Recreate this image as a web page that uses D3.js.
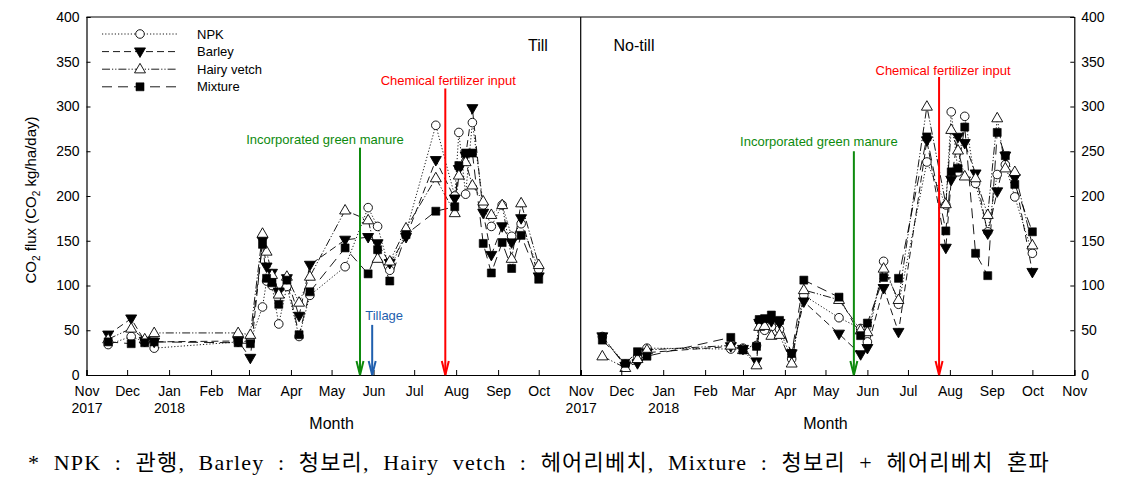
<!DOCTYPE html>
<html><head><meta charset="utf-8">
<script src="https://cdn.jsdelivr.net/npm/d3@7"></script>
<style>body{margin:0;background:#fff}svg{display:block}</style>
</head><body>
<script>
// ---------------- DATA ----------------
const seriesNames = ["NPK", "Barley", "Hairy vetch", "Mixture"];
const monthLabels = ["Nov","Dec","Jan","Feb","Mar","Apr","May","Jun","Jul","Aug","Sep","Oct","Nov"];
const yearLabels = {0: "2017", 2: "2018"};
const yTicks = [0,50,100,150,200,250,300,350,400];

// Till panel
const tillDates = ["2017-11-17","2017-12-04","2017-12-14","2017-12-21","2018-02-21","2018-03-02","2018-03-11","2018-03-14","2018-03-18","2018-03-23","2018-03-29","2018-04-07","2018-04-15","2018-05-11","2018-05-28","2018-06-04","2018-06-13","2018-06-25","2018-07-17","2018-07-31","2018-08-03","2018-08-08","2018-08-13","2018-08-21","2018-08-27","2018-09-04","2018-09-11","2018-09-18","2018-10-01"];
const tillNPK     = [34,43,37,30,37,38,76,105,100,57,99,43,89,121,187,166,117,160,279,200,271,202,282,190,166,190,155,169,118];
const tillBarley  = [45,63,38,37,38,19,150,121,114,93,108,66,123,151,154,147,125,154,240,197,230,245,298,181,134,166,148,175,110];
const tillVetch   = [40,52,40,47,47,45,158,138,112,90,110,81,110,184,173,130,127,164,220,181,223,238,212,194,179,190,130,192,123];
const tillMixture = [37,35,36,37,36,35,146,108,103,79,106,45,93,142,113,140,105,157,183,188,234,248,248,147,114,148,119,156,107];

// No-till panel
const noTillDates = ["2017-11-17","2017-12-04","2017-12-13","2017-12-20","2018-02-20","2018-03-01","2018-03-11","2018-03-13","2018-03-17","2018-03-22","2018-03-28","2018-04-06","2018-04-15","2018-05-11","2018-05-27","2018-06-01","2018-06-13","2018-06-24","2018-07-15","2018-07-29","2018-08-02","2018-08-07","2018-08-12","2018-08-20","2018-08-29","2018-09-05","2018-09-11","2018-09-18","2018-10-01"];
const noTillNPK     = [43,12,20,30,29,30,33,61,50,54,51,18,89,64,52,37,127,79,238,190,294,227,289,214,160,224,235,199,136];
const noTillBarley  = [43,10,13,25,32,29,15,58,60,60,58,24,82,46,23,30,97,48,262,142,218,266,259,225,158,205,245,220,115];
const noTillVetch   = [21,8,18,28,33,28,11,54,55,44,45,13,95,84,50,48,119,84,300,191,274,251,222,220,179,287,231,227,145];
const noTillMixture = [39,13,26,21,42,28,32,62,63,67,61,24,106,87,44,58,109,108,266,161,227,231,277,136,111,271,245,213,160];

// Events
const greenManureDate = "2018-05-22";
const tillageDate = "2018-05-31";
const fertilizerDate = "2018-07-24";

const footnote = "* NPK : 관행, Barley : 청보리, Hairy vetch : 헤어리베치, Mixture : 청보리 + 헤어리베치 혼파";

// ---------------- CHART ----------------
const W = 1128, H = 496;
const FONT = "'Liberation Sans', Arial, sans-serif";
const parse = d3.timeParse("%Y-%m-%d");
const svg = d3.select("body").append("svg").attr("width", W).attr("height", H)
  .style("font-family", FONT);

const y = d3.scaleLinear().domain([0, 400]).range([375, 17]);
const domain = [new Date(2017,10,1), new Date(2018,10,1)];
const xL = d3.scaleTime().domain(domain).range([86.5, 580.7]);
const xR = d3.scaleTime().domain(domain).range([580.7, 1074.3]);
const tickDates = d3.timeMonth.range(new Date(2017,10,1), new Date(2018,10,2));

const styles = [
  {dash: "1.2,2", sym: "circle", fill: "#fff"},
  {dash: "7,4", sym: "tdown", fill: "#000"},
  {dash: "8,2,1.2,2,1.2,2", sym: "tup", fill: "#fff"},
  {dash: "10,6", sym: "square", fill: "#000"}
];

function drawMarker(g, sym, fill, cx, cy) {
  if (sym === "circle") {
    g.append("circle").attr("cx", cx).attr("cy", cy).attr("r", 4.3)
      .attr("fill", fill).attr("stroke", "#000").attr("stroke-width", 0.9);
  } else if (sym === "square") {
    g.append("path").attr("d", d3.symbol(d3.symbolSquare, 64)())
      .attr("transform", `translate(${cx},${cy})`).attr("fill", fill).attr("stroke", "#000").attr("stroke-width", 0.6);
  } else {
    const rot = sym === "tdown" ? 180 : 0;
    g.append("path").attr("d", d3.symbol(d3.symbolTriangle, 52)())
      .attr("transform", `translate(${cx},${cy + (sym==="tdown"?-0.5:0.5)}) rotate(${rot})`)
      .attr("fill", fill).attr("stroke", "#000").attr("stroke-width", 0.9);
  }
}

function panel(x, dates, series, showYLeft, showYRight, labelLastNov) {
  const g = svg.append("g");
  const dd = dates.map(parse);
  series.forEach((vals, i) => {
    const line = d3.line().x((d, j) => x(dd[j])).y(d => y(d));
    g.append("path").datum(vals).attr("d", line).attr("fill", "none")
      .attr("stroke", "#000").attr("stroke-width", 0.9).attr("stroke-dasharray", styles[i].dash);
  });
  series.forEach((vals, i) => {
    vals.forEach((v, j) => drawMarker(g, styles[i].sym, styles[i].fill, x(dd[j]), y(v)));
  });
  const ax = svg.append("g").attr("transform", "translate(0,375)")
    .call(d3.axisBottom(x).tickValues(tickDates).tickSize(-5).tickPadding(11)
      .tickFormat((d, i) => (i === 12 && !labelLastNov) ? "" : monthLabels[i]));
  ax.select(".domain").attr("stroke", "#000").attr("stroke-width", 1.2);
  ax.selectAll(".tick line").attr("stroke", "#000");
  ax.selectAll(".tick text").attr("font-size", 14).attr("fill", "#000").attr("font-family", FONT);
  ax.selectAll(".tick").each(function(d, i) {
    if (yearLabels[i]) {
      d3.select(this).append("text").attr("y", 28).attr("dy", "0.71em").attr("fill", "#000")
        .attr("font-size", 14).attr("font-family", FONT).text(yearLabels[i]);
    }
  });
  if (showYLeft) {
    const ay = svg.append("g").attr("transform", `translate(${x.range()[0]},0)`)
      .call(d3.axisLeft(y).tickValues(yTicks).tickSize(-4).tickPadding(7));
    ay.select(".domain").attr("stroke", "#000").attr("stroke-width", 1.2);
    ay.selectAll(".tick text").attr("font-size", 14).attr("fill", "#000").attr("font-family", FONT);
  }
  if (showYRight) {
    const ay = svg.append("g").attr("transform", `translate(${x.range()[1]},0)`)
      .call(d3.axisRight(y).tickValues(yTicks).tickSize(-4).tickPadding(7));
    ay.select(".domain").attr("stroke", "#000").attr("stroke-width", 1.2);
    ay.selectAll(".tick text").attr("font-size", 14).attr("fill", "#000").attr("font-family", FONT);
  }
  svg.append("text").attr("x", (x.range()[0] + x.range()[1]) / 2 - 2).attr("y", 429)
    .attr("text-anchor", "middle").attr("font-size", 16).text("Month");
}

panel(xL, tillDates, [tillNPK, tillBarley, tillVetch, tillMixture], true, false, false);
panel(xR, noTillDates, [noTillNPK, noTillBarley, noTillVetch, noTillMixture], false, true, true);

svg.append("line").attr("x1", 86.5).attr("x2", 1074.3).attr("y1", y(400)).attr("y2", y(400))
  .attr("stroke", "#000").attr("stroke-width", 1.2);
svg.append("line").attr("x1", xL.range()[1]).attr("x2", xL.range()[1]).attr("y1", y(400)).attr("y2", y(0))
  .attr("stroke", "#000").attr("stroke-width", 1.2);

function arrow(x, date, top, color) {
  const px = x(parse(date));
  const g = svg.append("g").attr("stroke", color).attr("stroke-width", 2).attr("fill", "none");
  g.append("line").attr("x1", px).attr("x2", px).attr("y1", y(top)).attr("y2", y(0));
  g.append("polyline").attr("points", `${px-3.5},${y(0)-14} ${px},${y(0)} ${px+3.5},${y(0)-14}`);
  return px;
}
function label(px, py, txt, color, size) {
  svg.append("text").attr("x", px).attr("y", py).attr("text-anchor", "middle")
    .attr("fill", color).attr("font-size", size || 13).text(txt);
}
const RED = "#ff0000", GREEN = "#0d8a0d", BLUE = "#1f5fae";
const gL = arrow(xL, greenManureDate, 254, GREEN);
const bL = arrow(xL, tillageDate, 56, BLUE);
const rL = arrow(xL, fertilizerDate, 320, RED);
const gR = arrow(xR, greenManureDate, 250, GREEN);
const rR = arrow(xR, fertilizerDate, 333, RED);
label(gL - 35, 144, "Incorporated green manure", GREEN);
label(bL + 12, 320, "Tillage", BLUE);
label(rL + 3, 85, "Chemical fertilizer input", RED);
label(gR - 35, 146, "Incorporated green manure", GREEN);
label(rR + 4, 75, "Chemical fertilizer input", RED);
label(538, 51, "Till", "#000", 16);
label(634, 51, "No-till", "#000", 16);

const lg = svg.append("g");
seriesNames.forEach((n, i) => {
  const ly = 34 + i * 17.6;
  lg.append("line").attr("x1", 102).attr("x2", 177).attr("y1", ly).attr("y2", ly)
    .attr("stroke", "#000").attr("stroke-width", 0.9).attr("stroke-dasharray", styles[i].dash);
  drawMarker(lg, styles[i].sym, styles[i].fill, 140, ly);
  lg.append("text").attr("x", 197).attr("y", ly + 4.5).attr("font-size", 13).text(n);
});

const yt = svg.append("text").attr("transform", "translate(36,200) rotate(-90)")
  .attr("text-anchor", "middle").attr("font-size", 15);
yt.append("tspan").text("CO");
yt.append("tspan").attr("font-size", 10).attr("dy", 4).text("2");
yt.append("tspan").attr("dy", -4).text(" flux (CO");
yt.append("tspan").attr("font-size", 10).attr("dy", 4).text("2");
yt.append("tspan").attr("dy", -4).text(" kg/ha/day)");

// Footnote: letter + word spacing so it spans the same width as the reference
const fn = svg.append("text").attr("x", 28).attr("y", 470)
  .attr("font-family", "'Liberation Serif', 'Noto Sans CJK KR', serif").attr("font-size", 22)
  .attr("letter-spacing", 1.2)
  .text(footnote);
const natural = fn.node().getComputedTextLength();
const nSpaces = (footnote.match(/ /g) || []).length;
fn.attr("word-spacing", Math.max(0, (1022 - natural) / nSpaces));
</script>
</body></html>
